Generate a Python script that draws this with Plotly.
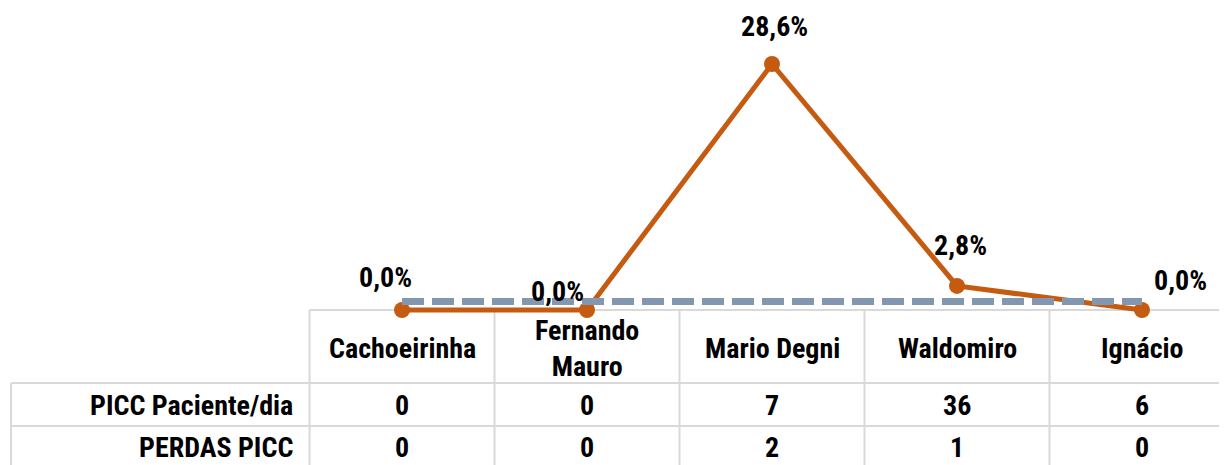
import plotly.graph_objects as go

categories = ["Cachoeirinha", "Fernando<br>Mauro", "Mario Degni", "Waldomiro", "Ignácio"]
rate_pct = [0.0, 0.0, 28.6, 2.8, 0.0]
rate_labels = ["0,0%", "0,0%", "28,6%", "2,8%", "0,0%"]
target_pct = [1.0, 1.0, 1.0, 1.0, 1.0]
row_names = ["PICC Paciente/dia", "PERDAS PICC"]
picc_paciente_dia = [0, 0, 7, 36, 6]
perdas_picc = [0, 0, 2, 1, 0]
label_shift = [(-17, 33), (-30, 19), (2, 38), (3, 40), (38, 30)]

# page body has an 8px margin: work in screen pixels, convert to figure pixels
OFF = 8
SW, SH = 1227, 465
W, H = SW - OFF, SH - OFF
FONT = "Liberation Sans Narrow, Arial Narrow, Roboto Condensed, DejaVu Sans Condensed, sans-serif"
FS = 28
GRID = "#D9D9D9"

col_w = 185.0
x_left_edge_px = 309.5 - OFF
x0 = -0.5 - x_left_edge_px / col_w
x1 = -0.5 + (W - x_left_edge_px) / col_w
zero_px, top_val_px = 310.0 - OFF, 64.0 - OFF
ppu = (zero_px - top_val_px) / 28.6
y1 = zero_px / ppu
y0 = -(H - zero_px) / ppu

xs = list(range(len(categories)))

fig = go.Figure()
fig.add_trace(go.Scatter(
    x=xs, y=rate_pct, mode="lines+markers",
    line=dict(color="#C55A11", width=5),
    marker=dict(color="#C55A11", size=16),
    showlegend=False, hoverinfo="skip",
))
fig.add_trace(go.Scatter(
    x=xs, y=target_pct, mode="lines",
    line=dict(color="#8497B0", width=7, dash="22px,8px"),
    showlegend=False, hoverinfo="skip",
))

annotations = []
for i, (v, lab) in enumerate(zip(rate_pct, rate_labels)):
    dx, dy = label_shift[i]
    annotations.append(dict(x=i, y=v, xref="x", yref="y", text="<b>%s</b>" % lab, showarrow=False,
                            xshift=dx, yshift=dy,
                            font=dict(family=FONT, size=FS, color="#000000")))

def py(px):
    return 1 - (px - OFF) / H

def pxx(px):
    return (px - OFF) / W

for i, c in enumerate(categories):
    annotations.append(dict(x=i, y=py(348), xref="x", yref="paper", text="<b>%s</b>" % c,
                            showarrow=False, yanchor="middle",
                            font=dict(family=FONT, size=FS, color="#000000")))
row_centers = [405, 447]
for r, (name, vals) in enumerate(zip(row_names, [picc_paciente_dia, perdas_picc])):
    annotations.append(dict(x=pxx(295), y=py(row_centers[r]), xref="paper", yref="paper",
                            text="<b>%s</b>" % name, showarrow=False, xanchor="right",
                            yanchor="middle", font=dict(family=FONT, size=FS, color="#000000")))
    for i, v in enumerate(vals):
        annotations.append(dict(x=i, y=py(row_centers[r]), xref="x", yref="paper",
                                text="<b>%d</b>" % v, showarrow=False, yanchor="middle",
                                font=dict(family=FONT, size=FS, color="#000000")))

shapes = []
line = dict(color=GRID, width=2)
shapes.append(dict(type="line", xref="x", yref="paper", x0=-0.5, x1=x1, y0=py(310), y1=py(310), line=line, layer="below"))
for ypx in (383, 426):
    shapes.append(dict(type="line", xref="paper", yref="paper", x0=pxx(11), x1=1, y0=py(ypx), y1=py(ypx), line=line, layer="below"))
for k in range(len(categories)):
    shapes.append(dict(type="line", xref="x", yref="paper", x0=k - 0.5, x1=k - 0.5, y0=py(310), y1=0, line=line, layer="below"))
shapes.append(dict(type="line", xref="paper", yref="paper", x0=pxx(11), x1=pxx(11), y0=py(383), y1=0, line=line, layer="below"))

fig.update_layout(
    width=W, height=H,
    margin=dict(l=0, r=0, t=0, b=0),
    paper_bgcolor="white", plot_bgcolor="white",
    xaxis=dict(range=[x0, x1], visible=False, fixedrange=True),
    yaxis=dict(range=[y0, y1], visible=False, fixedrange=True),
    annotations=annotations, shapes=shapes,
    font=dict(family=FONT, size=FS, color="#000000"),
)
fig.write_html("out.html")
